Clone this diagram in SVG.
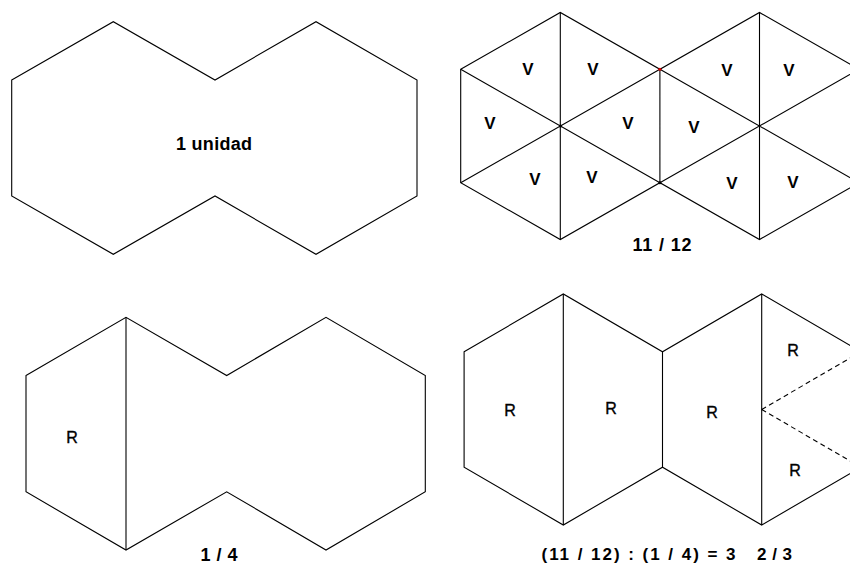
<svg xmlns="http://www.w3.org/2000/svg" width="850" height="564" viewBox="0 0 850 564">
<style>
.ln{fill:none;stroke:#000;stroke-width:1.1;stroke-linejoin:miter}
.dash{fill:none;stroke:#000;stroke-width:1.1;stroke-dasharray:5 3.5}
.t{font-family:"Liberation Sans",Arial,sans-serif;fill:#000}
.b{font-weight:bold}
.v{font-family:"Liberation Sans",Arial,sans-serif;font-weight:bold;font-size:17px;text-anchor:middle;fill:#000}
.r{font-family:"Liberation Sans",Arial,sans-serif;font-size:16px;text-anchor:middle;fill:#000;stroke:#000;stroke-width:0.35}
</style>
<rect width="850" height="564" fill="#fff"/>

<g id="unit">
<polygon class="ln" points="11.7,80 113.3,21.7 215,80 316,21.7 417,80 417,196 316,254.3 215,196 113.3,254.3 11.7,196"/>
<text class="t b" x="214" y="150" font-size="18" text-anchor="middle" textLength="76" lengthAdjust="spacing">1 unidad</text>
</g>

<g id="triangles">
<polygon class="ln" points="460.7,69.25 560.3,12.5 659.9,69.25 759.5,12.5 859.1,69.25 859.1,182.75 759.5,239.5 659.9,182.75 560.3,239.5 460.7,182.75"/>
<path class="ln" d="M460.7,69.25 L659.9,182.75 M460.7,182.75 L659.9,69.25 M560.3,12.5 V239.5 M659.9,69.25 L859.1,182.75 M659.9,182.75 L859.1,69.25 M759.5,12.5 V239.5 M659.9,69.25 V182.75"/>
<circle cx="560.5" cy="126" r="1.6" fill="#000"/>
<circle cx="659.9" cy="182.75" r="1.6" fill="#000"/>
<circle cx="659.9" cy="69.25" r="1.6" fill="#d00000"/>
<text class="v" x="528" y="75">V</text>
<text class="v" x="593" y="75">V</text>
<text class="v" x="727" y="76">V</text>
<text class="v" x="789" y="76">V</text>
<text class="v" x="490" y="129">V</text>
<text class="v" x="628" y="129">V</text>
<text class="v" x="694" y="133">V</text>
<text class="v" x="535" y="185">V</text>
<text class="v" x="592" y="183">V</text>
<text class="v" x="732" y="189">V</text>
<text class="v" x="793" y="188">V</text>
<text class="t b" x="662" y="251" font-size="18" text-anchor="middle" textLength="59" lengthAdjust="spacing">11 / 12</text>
</g>

<g id="quarter">
<polygon class="ln" points="26,375.5 126,317.3 226.7,375.5 326,317.3 425.3,375.5 425.3,491.8 326,550 226.7,491.8 126,550 26,491.8"/>
<path class="ln" d="M126,317.3 V550"/>
<text class="r" x="72" y="443">R</text>
<text class="t b" x="219" y="561" font-size="18" text-anchor="middle" textLength="37" lengthAdjust="spacing">1 / 4</text>
</g>

<g id="division">
<polygon class="ln" points="464.1,351.75 563.3,294 662.5,351.75 761.7,294 860.9,351.75 860.9,467.25 761.7,525 662.5,467.25 563.3,525 464.1,467.25"/>
<path class="ln" d="M563.3,294 V525 M761.7,294 V525 M662.5,351.75 V467.25"/>
<path class="dash" d="M761.7,409.5 L860.9,351.75 M761.7,409.5 L860.9,467.25"/>
<text class="r" x="510" y="416">R</text>
<text class="r" x="611" y="414">R</text>
<text class="r" x="712" y="418">R</text>
<text class="r" x="793" y="356">R</text>
<text class="r" x="795" y="476">R</text>
<text class="t b" font-size="17" y="560"><tspan x="541.5" textLength="194" lengthAdjust="spacing">(11 / 12) : (1 / 4) = 3</tspan><tspan x="757" textLength="35" lengthAdjust="spacing">2 / 3</tspan></text>
</g>
</svg>
